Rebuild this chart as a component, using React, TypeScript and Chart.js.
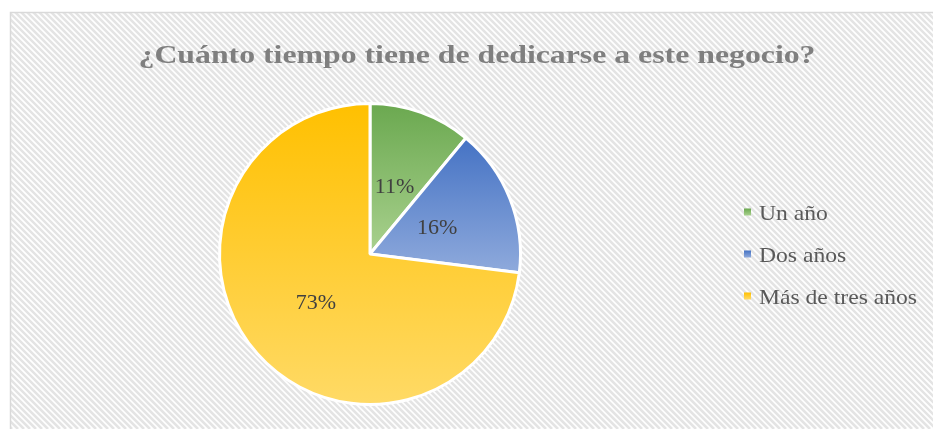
import React, { useEffect, useRef } from "react";
import { Chart, registerables } from "chart.js";

Chart.register(...registerables);

const titleText = "¿Cuánto tiempo tiene de dedicarse a este negocio?";
const categories = ["Un año", "Dos años", "Más de tres años"];
const values = [11, 16, 73];
const topColors = ["#6aa84f", "#4472c4", "#ffc000"];
const bottomColors = ["#a9d18e", "#8faadc", "#ffda66"];

function sliceGradient(chart: any, index: number) {
  const area = chart.chartArea;
  if (!area) return topColors[index];
  const cx = (area.left + area.right) / 2;
  const cy = (area.top + area.bottom) / 2;
  const r = Math.min(area.right - area.left, area.bottom - area.top) / 2;
  const total = values.reduce((a, b) => a + b, 0);
  let start = 0;
  for (let i = 0; i < index; i++) start += values[i];
  const a0 = -Math.PI / 2 + (start / total) * Math.PI * 2;
  const a1 = a0 + (values[index] / total) * Math.PI * 2;
  let minY = cy, maxY = cy;
  const steps = 60;
  for (let s = 0; s <= steps; s++) {
    const a = a0 + ((a1 - a0) * s) / steps;
    const y = cy + r * Math.sin(a);
    if (y < minY) minY = y;
    if (y > maxY) maxY = y;
  }
  const g = chart.ctx.createLinearGradient(0, minY, 0, maxY);
  g.addColorStop(0, topColors[index]);
  g.addColorStop(1, bottomColors[index]);
  return g;
}

function stretchedText(ctx: any, txt: string, x: number, y: number, width: number, align: string) {
  const m = ctx.measureText(txt).width;
  const sx = width / m;
  ctx.save();
  ctx.translate(x, y);
  ctx.scale(sx, 1);
  ctx.textAlign = align;
  ctx.fillText(txt, 0, 0);
  ctx.restore();
}

const decorPlugin = {
  id: "decor",
  beforeDraw(chart: any) {
    const ctx = chart.ctx;
    const W = chart.width, H = chart.height;
    ctx.save();
    ctx.fillStyle = "#ffffff";
    ctx.fillRect(0, 0, W, H);
    const fx = 10.5, fy = 12.5;
    ctx.beginPath();
    ctx.rect(fx, fy, W, H);
    ctx.clip();
    ctx.strokeStyle = "#e4e4e4";
    ctx.lineWidth = 2.6;
    for (let k = -H; k < W + H; k += 6) {
      ctx.beginPath();
      ctx.moveTo(k, 0);
      ctx.lineTo(k + H, H);
      ctx.stroke();
    }
    ctx.restore();
    ctx.save();
    ctx.strokeStyle = "#d9d9d9";
    ctx.lineWidth = 1.5;
    ctx.beginPath();
    ctx.moveTo(fx, H + 5);
    ctx.lineTo(fx, fy);
    ctx.lineTo(W + 5, fy);
    ctx.stroke();
    ctx.restore();
  },
  afterDraw(chart: any) {
    const ctx = chart.ctx;
    ctx.save();
    // title
    ctx.fillStyle = "#7f7f7f";
    ctx.font = "bold 25px 'Liberation Serif', 'Times New Roman', serif";
    ctx.textBaseline = "alphabetic";
    stretchedText(ctx, titleText, 477, 63, 677, "center");
    // data labels
    const meta = chart.getDatasetMeta(0);
    const total = values.reduce((a, b) => a + b, 0);
    ctx.fillStyle = "#404040";
    ctx.font = "22px 'Liberation Serif', 'Times New Roman', serif";
    ctx.textAlign = "center";
    ctx.textBaseline = "middle";
    meta.data.forEach((arc: any, i: number) => {
      const p = arc.getProps(["x", "y", "startAngle", "endAngle", "outerRadius"], true);
      const mid = (p.startAngle + p.endAngle) / 2;
      const d = p.outerRadius * 0.48;
      const txt = Math.round((values[i] / total) * 100) + "%";
      ctx.fillText(txt, p.x + d * Math.cos(mid), p.y + d * Math.sin(mid) + 1);
    });
    // legend
    const rows = [212, 254, 296];
    ctx.font = "22px 'Liberation Serif', 'Times New Roman', serif";
    ctx.textBaseline = "alphabetic";
    const widthRatio = 158 / ctx.measureText(categories[2]).width;
    categories.forEach((c, i) => {
      const y = rows[i];
      const g = ctx.createLinearGradient(0, y - 3.5, 0, y + 3.5);
      g.addColorStop(0, topColors[i]);
      g.addColorStop(1, bottomColors[i]);
      ctx.fillStyle = g;
      ctx.fillRect(744, y - 3.5, 7, 7);
      ctx.fillStyle = "#595959";
      const w = ctx.measureText(c).width * widthRatio;
      stretchedText(ctx, c, 759, y + 8, w, "left");
    });
    ctx.restore();
  },
};

export default function App() {
  const ref = useRef<HTMLCanvasElement>(null);
  useEffect(() => {
    if (!ref.current) return;
    const chart = new Chart(ref.current, {
      type: "pie",
      data: {
        labels: categories,
        datasets: [
          {
            data: values,
            backgroundColor: (ctx: any) => sliceGradient(ctx.chart, ctx.dataIndex),
            borderColor: "#ffffff",
            borderWidth: 3,
          },
        ],
      },
      options: {
        animation: false,
        responsive: false,
        maintainAspectRatio: false,
        layout: { padding: { left: 218, right: 933 - 522, top: 102, bottom: 429 - 406 } },
        plugins: {
          legend: { display: false },
          title: { display: false },
          tooltip: { enabled: false },
        },
      },
      plugins: [decorPlugin],
    });
    return () => chart.destroy();
  }, []);
  return (
    <div style={{ position: "absolute", left: 0, top: 0, width: 933, height: 429 }}>
      <canvas ref={ref} width={933} height={429} style={{ display: "block", width: 933, height: 429 }} />
    </div>
  );
}
